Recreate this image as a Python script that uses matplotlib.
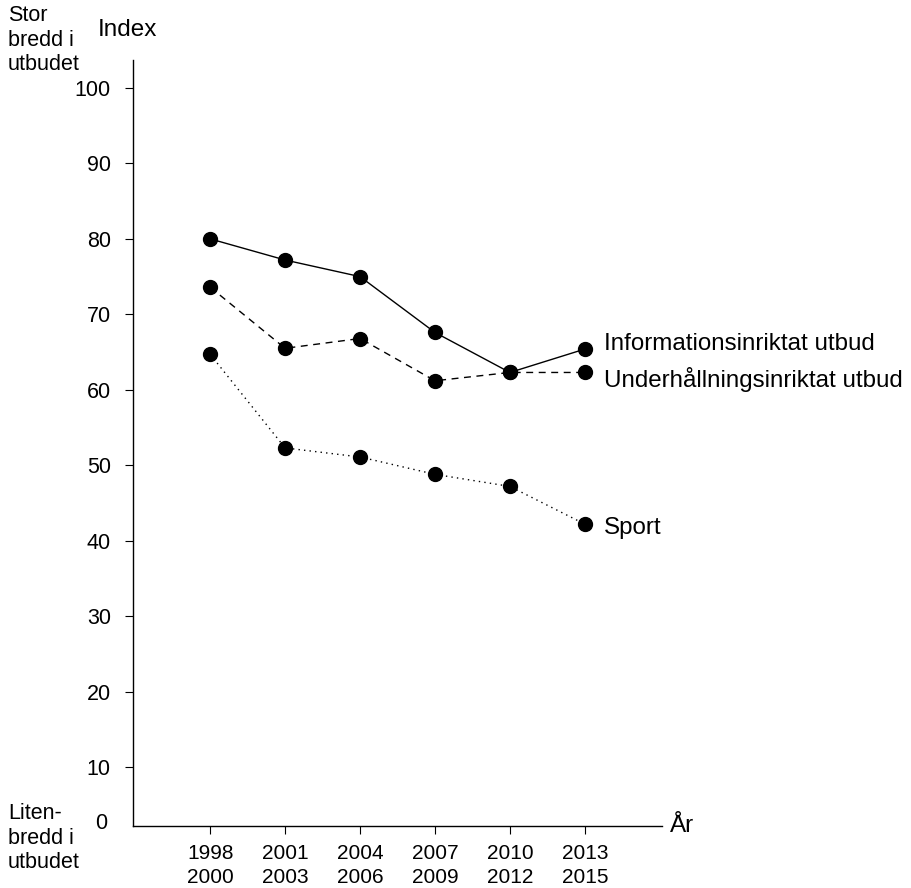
import matplotlib.pyplot as plt

plt.rcParams['font.family'] = ['Liberation Sans', 'DejaVu Sans']

# Data
periods = ['1998\n2000', '2001\n2003', '2004\n2006', '2007\n2009', '2010\n2012', '2013\n2015']
info = [80.0, 77.2, 75.0, 67.6, 62.3, 65.4]
underhallning = [73.6, 65.5, 66.8, 61.2, 62.3, 62.3]
sport = [64.7, 52.3, 51.1, 48.8, 47.2, 42.2]
series_names = ['Informationsinriktat utbud', 'Underhållningsinriktat utbud', 'Sport']
yticks = [10, 20, 30, 40, 50, 60, 70, 80, 90, 100]

fig = plt.figure(figsize=(9.11, 8.88), dpi=100)
ax = fig.add_axes([0.146, 0.0698, 0.5807, 0.8626])

x = list(range(len(periods)))
styles = ['-', (0, (5, 4)), (0, (1, 3))]
label_offsets = [(14, 4), (14, -5), (14, -3)]
for vals, ls, name, off in zip([info, underhallning, sport], styles, series_names, label_offsets):
    ax.plot(x, vals, color='black', linestyle=ls, linewidth=1.0,
            marker='o', markersize=10, markerfacecolor='black', markeredgecolor='black')
    ax.annotate(name, (x[-1], vals[-1]), xytext=off, textcoords='offset points',
                fontsize=17.4, va='center', ha='left')

ax.set_xlim(-1.03, 6.03)
ax.set_ylim(2.2, 103.7)
ax.set_xticks(x)
ax.set_xticklabels(periods, fontsize=15, linespacing=1.35)
ax.set_yticks(yticks)
ax.set_yticklabels([str(t) for t in yticks], fontsize=15.5)
ax.tick_params(axis='y', direction='out', length=6, width=0.8, pad=10)
ax.tick_params(axis='x', direction='out', length=6, width=0.8, pad=7)

for s in ['top', 'right']:
    ax.spines[s].set_visible(False)
for s in ['left', 'bottom']:
    ax.spines[s].set_linewidth(1.0)

# Axis labels and side texts
fig.text(98 / 911, 1 - 30 / 888, 'Index', fontsize=17.5, va='center', ha='left')
fig.text(670 / 911, 1 - 826 / 888, 'År', fontsize=17.5, va='center', ha='left')
fig.text(107 / 911, 1 - 823 / 888, '0', fontsize=15.5, va='center', ha='right')
fig.text(8 / 911, 1 - 40 / 888, 'Stor\nbredd i\nutbudet', fontsize=15.5, va='center', ha='left',
         linespacing=1.2)
fig.text(8 / 911, 1 - 838 / 888, 'Liten-\nbredd i\nutbudet', fontsize=15.5, va='center', ha='left',
         linespacing=1.2)

plt.savefig('out.png', dpi=100)
